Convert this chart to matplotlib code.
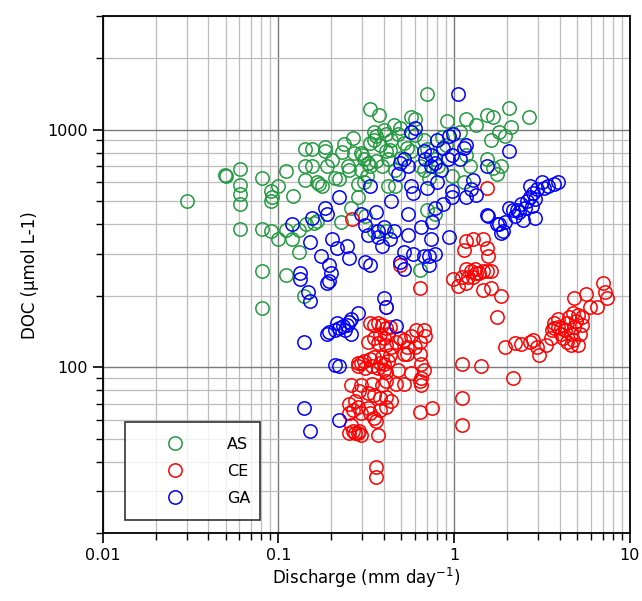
import matplotlib
matplotlib.use("Agg")
import matplotlib.pyplot as plt
from matplotlib.ticker import LogLocator, NullFormatter, FixedLocator, FixedFormatter

# ---------------- data ----------------
AS_x = [0.030, 0.0498, 0.050, 0.0607, 0.0607, 0.0607, 0.0607, 0.0607, 0.0805, 0.091,
        0.091, 0.092, 0.100, 0.111, 0.121, 0.0805, 0.091, 0.100, 0.110, 0.120,
        0.131, 0.144, 0.159, 0.165, 0.0805, 0.0805, 0.111, 0.131, 0.140, 0.141,
        0.156, 0.141, 0.156, 0.141, 0.165, 0.183, 0.183, 0.178, 0.171, 0.202,
        0.237, 0.267, 0.253, 0.282, 0.230, 0.209, 0.227, 0.259, 0.331, 0.372,
        0.297, 0.305, 0.322, 0.331, 0.297, 0.305, 0.282, 0.313, 0.350, 0.410,
        0.350, 0.360, 0.410, 0.350, 0.410, 0.420, 0.460, 0.420, 0.460, 0.457,
        0.490, 0.568, 0.600, 0.540, 0.568, 0.670, 0.700, 0.703, 0.670, 0.720,
        0.780, 0.810, 0.700, 0.780, 0.640, 0.910, 1.080, 1.170, 1.340, 1.530,
        1.660, 2.060, 2.120, 2.670, 1.800, 1.950, 1.620, 1.230, 1.530, 1.660,
        1.860, 1.760, 1.140, 0.970, 1.170, 0.330, 0.380, 0.440, 0.300, 0.360,
        0.390, 0.430, 0.500, 0.520, 0.320, 0.270, 0.250, 0.400, 0.480, 0.850,
        0.900, 0.600, 0.640, 0.220, 0.190]
AS_y = [500, 645, 640, 684, 586, 536, 487, 380, 626, 550,
        501, 520, 581, 669, 526, 380, 373, 347, 376, 347,
        376, 402, 405, 412, 254, 177, 244, 305, 200, 826,
        826, 704, 704, 614, 603, 847, 811, 581, 592, 744,
        873, 922, 674, 592, 805, 626, 410, 466, 1216, 1150,
        795, 753, 726, 700, 674, 603, 520, 433, 373, 373,
        975, 940, 958, 905, 811, 753, 674, 581, 581, 1049,
        1011, 1129, 1109, 840, 811, 905, 825, 1409, 674, 626,
        753, 700, 457, 441, 257, 1088, 975, 1109, 1049, 1150,
        1129, 1238, 1030, 1129, 975, 940, 905, 700, 753, 686,
        700, 650, 603, 638, 781, 880, 860, 900, 780, 740,
        700, 820, 760, 880, 640, 800, 700, 1000, 960, 930,
        860, 950, 700, 620, 700]

CE_x = [0.262, 0.490, 1.530, 0.640,
        1.170, 1.140, 1.280, 1.460, 1.530, 1.560, 0.990, 1.050, 1.110, 1.170,
        1.240, 1.310, 1.380, 1.460, 1.530, 1.620, 1.200, 1.340, 1.460, 1.620,
        1.860, 1.760, 1.170, 1.280,
        1.950, 2.220, 2.400, 2.700, 2.830, 2.980, 3.060, 3.340, 3.540, 2.170,
        3.620, 3.710, 3.920, 4.040, 4.150, 4.260, 4.370, 4.480, 4.600, 4.720,
        4.840, 4.970, 5.100, 5.230, 5.370, 4.840, 5.650, 5.950, 6.520, 7.030,
        7.200, 7.400, 3.920, 4.370, 4.600, 5.100, 3.710, 4.040, 4.720, 5.370,
        0.410, 0.331, 0.350, 0.367, 0.390, 0.410, 0.430, 0.379, 0.420, 0.400,
        0.350, 0.322, 0.367, 0.410, 0.440, 0.470, 0.490, 0.520, 0.568, 0.610,
        0.670, 0.680, 0.640, 0.600, 0.540, 0.520, 0.430, 0.390, 0.350, 0.331,
        0.305, 0.297, 0.282, 0.379, 0.420, 0.340, 0.367, 0.400, 0.282, 0.313,
        0.410, 0.400, 0.540, 0.640, 0.650, 0.670, 0.650, 0.640, 0.650, 0.480,
        0.568, 0.520, 0.470, 0.410, 0.390, 0.340, 0.297, 0.259, 0.289, 0.322,
        0.350, 0.379, 0.410, 0.440, 0.273, 0.253, 0.267, 0.282, 0.297, 0.322,
        0.379, 0.410, 0.350, 0.358, 0.331, 0.253, 0.259, 0.267, 0.273, 0.282,
        0.289, 0.297, 0.253, 0.367, 0.358, 0.358, 0.640, 0.750, 1.110, 1.110,
        1.110, 1.430]
CE_y = [420, 268, 567, 215,
        340, 310, 347, 347, 316, 294, 235, 219, 240, 227,
        253, 258, 249, 253, 253, 253, 240, 249, 211, 215,
        200, 163, 258, 240,
        121, 126, 125, 128, 130, 121, 112, 124, 133, 90,
        143, 154, 148, 138, 133, 143, 154, 163, 138, 130,
        148, 157, 124, 138, 163, 196, 203, 179, 179, 227,
        207, 196, 160, 128, 124, 166, 146, 146, 169, 151,
        179, 154, 151, 154, 151, 146, 148, 138, 138, 133,
        133, 128, 126, 124, 121, 128, 133, 130, 135, 143,
        143, 135, 128, 121, 121, 114, 112, 110, 110, 108,
        106, 104, 104, 104, 106, 101, 99, 97, 101, 99,
        95, 103, 114, 114, 103, 97, 90, 87, 84, 97,
        94, 85, 85, 87, 84, 85, 84, 84, 79, 78,
        76, 74, 75, 72, 72, 70, 66, 68, 64, 67,
        66, 68, 61, 59, 64, 64, 57, 54, 53, 53,
        54, 52, 53, 52, 38, 34.5, 65, 67, 74, 57,
        103, 101]

GA_x = [1.050, 0.568, 0.600, 0.520, 0.490, 0.550, 0.480, 0.670, 0.680, 0.740,
        0.780, 0.740, 0.800, 0.870, 0.940, 0.990, 0.920, 0.970, 1.080, 1.140,
        1.170, 2.060, 1.530, 0.840, 0.800,
        0.331, 0.440, 0.568, 0.580, 0.703, 0.780, 0.870, 0.970, 0.970, 1.170,
        1.340, 1.240, 1.280,
        0.220, 0.183, 0.188, 0.120, 0.156, 0.297, 0.358, 0.313, 0.367, 0.400,
        0.457, 0.550, 0.550, 0.650, 0.750, 0.740, 0.940, 1.530, 1.760, 1.950,
        1.860,
        0.152, 0.203, 0.216, 0.246, 0.253, 0.322, 0.367, 0.390, 0.430, 0.490,
        0.520, 0.580, 0.670, 0.720, 0.780, 0.520, 0.720, 0.313, 0.331, 0.174,
        0.193, 0.200, 0.193, 0.188, 0.133, 0.133, 0.147, 0.152,
        1.560, 1.800, 1.900, 2.060, 2.170, 2.220, 2.340, 2.470, 2.610, 2.700,
        2.830, 2.900, 2.760, 2.900, 2.700, 2.980, 3.150, 3.430, 3.710, 3.920,
        3.240, 2.540, 2.400, 2.280,
        0.188, 0.193, 0.209, 0.220, 0.233, 0.246, 0.253, 0.259, 0.282, 0.259,
        0.240, 0.215, 0.400, 0.410, 0.470, 0.140, 0.209, 0.220, 0.140, 0.152,
        0.220]
GA_y = [1410, 975, 1011, 753, 726, 700, 650, 811, 753, 781,
        726, 700, 905, 840, 940, 958, 753, 781, 753, 840,
        857, 811, 700, 674, 603,
        581, 502, 581, 540, 570, 466, 484, 520, 550, 520,
        530, 560, 614,
        520, 466, 441, 402, 425, 441, 450, 395, 373, 387,
        373, 441, 360, 387, 410, 347, 354, 436, 402, 410,
        367,
        337, 347, 316, 322, 288, 360, 354, 322, 347, 278,
        305, 299, 294, 294, 299, 258, 268, 278, 268, 294,
        268, 249, 231, 227, 249, 235, 207, 189,
        433, 402, 373, 466, 457, 433, 450, 417, 502, 520,
        540, 511, 475, 425, 581, 560, 603, 581, 592, 603,
        565, 466, 484, 457,
        138, 141, 143, 146, 149, 151, 155, 160, 169, 138,
        143, 153, 196, 179, 149, 128, 102, 101, 67, 54,
        60]

series = [("AS", AS_x, AS_y, "#239a40"),
          ("CE", CE_x, CE_y, "#ff0000"),
          ("GA", GA_x, GA_y, "#0000ff")]

# ---------------- plot ----------------
plt.rcParams['font.family'] = ['DejaVu Sans']
fig = plt.figure(figsize=(6.42, 6.01), dpi=100)
ax = fig.add_axes([0.160, 0.113, 0.821, 0.860])

for name, xs, ys, col in series:
    ax.plot(xs, ys, linestyle='none', marker='o', markersize=9.6,
            markerfacecolor='none', markeredgecolor=col, markeredgewidth=1.1,
            label=name, zorder=3)

ax.set_xscale('log')
ax.set_yscale('log')
ax.set_xlim(0.01, 10)
ax.set_ylim(20, 3000)

ax.xaxis.set_major_locator(FixedLocator([0.01, 0.1, 1, 10]))
ax.xaxis.set_major_formatter(FixedFormatter(['0.01', '0.1', '1', '10']))
ax.xaxis.set_minor_locator(LogLocator(base=10, subs=range(2, 10), numticks=20))
ax.xaxis.set_minor_formatter(NullFormatter())
ax.yaxis.set_major_locator(FixedLocator([100, 1000]))
ax.yaxis.set_major_formatter(FixedFormatter(['100', '1000']))
ax.yaxis.set_minor_locator(LogLocator(base=10, subs=range(2, 10), numticks=20))
ax.yaxis.set_minor_formatter(NullFormatter())

ax.grid(True, which='major', color='#7a7a7a', linewidth=1.0, zorder=0)
ax.grid(True, which='minor', color='#bdbdbd', linewidth=0.9, zorder=0)
ax.set_axisbelow(True)

ax.tick_params(which='major', direction='out', length=7, width=1.2, labelsize=11.5, colors='black')
ax.tick_params(which='minor', direction='out', length=5, width=1.0)
for s in ax.spines.values():
    s.set_linewidth(1.3)
    s.set_color('black')

ax.set_xlabel('Discharge (mm day$^{\\mathregular{-1}}$)', fontsize=12, labelpad=2)
ax.set_ylabel('DOC (\u03bcmol L-1)', fontsize=12, labelpad=6)

leg = ax.legend(loc='lower left', bbox_to_anchor=(0.042, 0.025, 0.256, 0.184),
                mode='expand', frameon=True, fancybox=False, fontsize=11.5,
                handletextpad=1.0, borderpad=0.9, labelspacing=0.75,
                handlelength=4.5, borderaxespad=0)
leg.get_frame().set_edgecolor('black')
leg.get_frame().set_linewidth(1.2)

fig.savefig('out.png', dpi=100)
